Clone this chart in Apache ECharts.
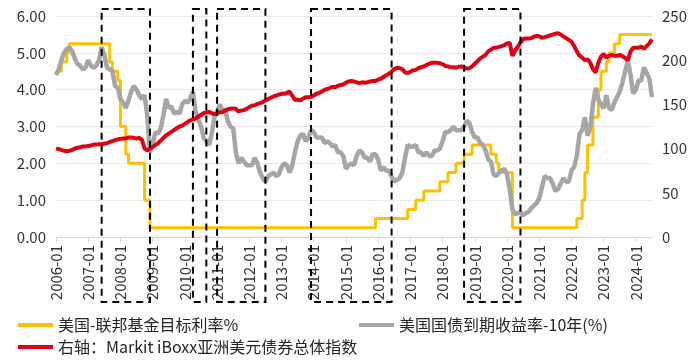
<!DOCTYPE html>
<html><head><meta charset="utf-8">
<script src="https://cdn.jsdelivr.net/npm/echarts@6/dist/echarts.min.js"></script>
<style>html,body{margin:0;padding:0;background:#fff}#c{width:700px;height:364px}</style>
</head><body><div id="c"></div>
<script>
// month categories 2006-01 .. 2024-07
const months = [];
for (let y = 2006; y <= 2024; y++) {
  for (let m = 1; m <= 12; m++) {
    if (y === 2024 && m > 7) break;
    months.push(y + '-' + (m < 10 ? '0' + m : m));
  }
}

// 美国-联邦基金目标利率% (monthly)
const fedRate = [
  4.5,4.5,4.75,4.75,5.0,5.25,5.25,5.25,5.25,5.25,5.25,5.25,
  5.25,5.25,5.25,5.25,5.25,5.25,5.25,5.25,4.75,4.5,4.5,4.25,
  3.0,3.0,2.25,2.0,2.0,2.0,2.0,2.0,2.0,1.0,1.0,0.25,
  0.25,0.25,0.25,0.25,0.25,0.25,0.25,0.25,0.25,0.25,0.25,0.25,
  0.25,0.25,0.25,0.25,0.25,0.25,0.25,0.25,0.25,0.25,0.25,0.25,
  0.25,0.25,0.25,0.25,0.25,0.25,0.25,0.25,0.25,0.25,0.25,0.25,
  0.25,0.25,0.25,0.25,0.25,0.25,0.25,0.25,0.25,0.25,0.25,0.25,
  0.25,0.25,0.25,0.25,0.25,0.25,0.25,0.25,0.25,0.25,0.25,0.25,
  0.25,0.25,0.25,0.25,0.25,0.25,0.25,0.25,0.25,0.25,0.25,0.25,
  0.25,0.25,0.25,0.25,0.25,0.25,0.25,0.25,0.25,0.25,0.25,0.5,
  0.5,0.5,0.5,0.5,0.5,0.5,0.5,0.5,0.5,0.5,0.5,0.75,
  0.75,0.75,1.0,1.0,1.0,1.25,1.25,1.25,1.25,1.25,1.25,1.5,
  1.5,1.5,1.75,1.75,1.75,2.0,2.0,2.0,2.25,2.25,2.25,2.5,
  2.5,2.5,2.5,2.5,2.5,2.5,2.25,2.25,2.0,1.75,1.75,1.75,
  1.75,1.75,0.25,0.25,0.25,0.25,0.25,0.25,0.25,0.25,0.25,0.25,
  0.25,0.25,0.25,0.25,0.25,0.25,0.25,0.25,0.25,0.25,0.25,0.25,
  0.25,0.25,0.5,0.5,1.0,1.75,2.5,2.5,3.25,3.25,4.0,4.5,
  4.5,4.75,5.0,5.0,5.25,5.25,5.5,5.5,5.5,5.5,5.5,5.5,
  5.5,5.5,5.5,5.5,5.5,5.5,5.5
];

// 美国国债到期收益率-10年(%) (monthly)
const ust10y = [
  4.4,4.55,4.8,5.0,5.1,5.15,5.05,4.85,4.7,4.65,4.55,4.6,
  4.8,4.65,4.6,4.65,4.8,5.15,4.95,4.6,4.55,4.5,4.1,4.05,
  3.75,3.65,3.5,3.7,3.95,4.1,4.0,3.85,3.75,3.85,3.3,2.3,
  2.5,2.85,2.8,2.95,3.3,3.75,3.5,3.55,3.35,3.4,3.35,3.6,
  3.7,3.65,3.75,3.95,3.4,3.2,3.0,2.7,2.6,2.5,2.8,3.25,
  3.4,3.6,3.45,3.45,3.15,3.0,2.95,2.3,2.0,2.15,2.05,1.95,
  1.95,1.95,2.15,2.0,1.75,1.6,1.5,1.65,1.7,1.75,1.65,1.7,
  1.9,2.0,1.95,1.75,1.95,2.3,2.6,2.75,2.8,2.6,2.7,2.9,
  2.85,2.7,2.7,2.7,2.55,2.6,2.55,2.45,2.5,2.3,2.3,2.2,
  1.85,1.95,2.0,1.95,2.2,2.35,2.3,2.15,2.15,2.05,2.25,2.25,
  2.1,1.8,1.9,1.8,1.8,1.65,1.5,1.55,1.6,1.75,2.15,2.5,
  2.45,2.45,2.5,2.3,2.3,2.2,2.3,2.2,2.2,2.35,2.35,2.4,
  2.6,2.85,2.85,2.9,3.0,2.9,2.9,2.9,3.0,3.15,3.1,2.85,
  2.7,2.7,2.55,2.5,2.35,2.1,2.05,1.7,1.65,1.75,1.8,1.85,
  1.7,1.3,0.75,0.62,0.65,0.68,0.58,0.65,0.68,0.78,0.85,0.92,
  1.05,1.35,1.65,1.6,1.6,1.45,1.25,1.3,1.45,1.6,1.5,1.5,
  1.8,1.9,2.2,2.8,2.9,3.25,2.75,2.95,3.6,4.05,3.75,3.6,
  3.5,3.85,3.5,3.45,3.65,3.8,3.95,4.2,4.5,4.8,4.4,3.9,
  4.0,4.25,4.25,4.6,4.45,4.3,3.8
];

// 右轴：Markit iBoxx亚洲美元债券总体指数 (monthly)
const iboxx = [
  100,99.5,98.5,97.5,97,97.5,98.5,100,101,101.5,102.5,102.5,
  103,103.5,104.5,104.5,105,105,105.5,106,107.5,108.5,109.5,110.5,
  111,111.5,111.5,112.5,112.5,112,111.5,112,110,100,98,100,
  102,104,106,109,112,115,117,119,121,123,125,126,
  128,130,132,133,134,136,138,140,141,141.5,140,139,
  140,141,141.5,143,144.5,145,145.5,145,142,143,143.5,145,
  147,148.5,149,150.5,151.5,152.5,154.5,156,157.5,159,160,161,
  162,162,163,164.5,160,155,155.5,154.5,156.5,158,158,158.5,
  160,162,163,164.5,166.5,167.5,168.5,170,169.5,171,172,172.5,
  174.5,176,176.5,176,175,174,175,174.5,175,176,176.5,176.5,
  178,179,181,183,184.5,187,190,191.5,191,190,186,185.5,
  187,188.5,189,191,192,193,194.5,196,197,197,197,196.5,
  195.5,193.5,193,192,192,191.5,192.5,193,191.5,190.5,191,193,
  196,199,202,204,206,210,212,214,214,215,216,217,
  219,219.5,205,211,215,220,224,224.5,224.5,225,226.5,227.5,
  227,225.5,226,227,228,229,230,230.5,229,227,225,223,
  221,216,210,205,203,200,201,197,190,186,197,204,
  207,203,205,206,205,205,206,204.5,202.5,200,210,214,
  214,214,215.5,213,216,219,223.5
];

const seriesNames = ['美国-联邦基金目标利率%', '美国国债到期收益率-10年(%)', '右轴：Markit iBoxx亚洲美元债券总体指数'];
const seriesColors = ['#FFC000', '#A6A6A6', '#E00012'];
const boxes = [['2007-06','2008-12'],['2010-04','2010-09'],['2011-01','2012-07'],['2013-12','2016-06'],['2018-09','2020-06']];

const FONT = '"Noto Sans CJK SC", "Noto Sans", sans-serif';
const chart = echarts.init(document.getElementById('c'), null, {renderer: 'canvas'});
const isJan = (i, v) => typeof v === 'string' ? v.endsWith('-01') : months[i].endsWith('-01');

chart.setOption({
  animation: false,
  backgroundColor: '#fff',
  textStyle: {fontFamily: FONT},
  grid: {left: 56, right: 48, top: 16, bottom: 127, containLabel: false},
  legend: [
    {data: [seriesNames[0]], left: 13, top: 312, icon: 'rect', itemWidth: 35, itemHeight: 4,
     textStyle: {fontSize: 16, color: '#262626', fontFamily: FONT}},
    {data: [seriesNames[1]], left: 354, top: 312, icon: 'rect', itemWidth: 35, itemHeight: 4,
     textStyle: {fontSize: 16, color: '#262626', fontFamily: FONT}},
    {data: [seriesNames[2]], left: 13, top: 334, icon: 'rect', itemWidth: 35, itemHeight: 4,
     textStyle: {fontSize: 16, color: '#262626', fontFamily: FONT}}
  ],
  xAxis: {
    type: 'category', data: months, boundaryGap: false,
    axisLine: {lineStyle: {color: '#D9D9D9', width: 1}},
    axisTick: {show: true, interval: (i, v) => isJan(i, v), length: 5, lineStyle: {color: '#D9D9D9'}},
    axisLabel: {interval: (i, v) => isJan(i, v), rotate: 90, margin: 8, fontSize: 15, color: '#333', fontFamily: FONT},
    splitLine: {show: false}
  },
  yAxis: [
    {type: 'value', min: 0, max: 6, interval: 1, position: 'left',
     axisLine: {show: false}, axisTick: {show: false},
     axisLabel: {formatter: v => v.toFixed(2), fontSize: 15, color: '#333', margin: 10, fontFamily: FONT},
     splitLine: {lineStyle: {color: '#EBEBEB', width: 1}}},
    {type: 'value', min: 0, max: 250, interval: 50, position: 'right',
     axisLine: {show: false}, axisTick: {show: false},
     axisLabel: {fontSize: 15, color: '#333', margin: 10, fontFamily: FONT},
     splitLine: {show: false}}
  ],
  series: [
    {name: seriesNames[0], type: 'line', data: fedRate, yAxisIndex: 0, step: 'end', symbol: 'none',
     lineStyle: {color: seriesColors[0], width: 3}, itemStyle: {color: seriesColors[0]}, z: 2},
    {name: seriesNames[1], type: 'line', data: ust10y, yAxisIndex: 0, symbol: 'none',
     lineStyle: {color: seriesColors[1], width: 4.5}, itemStyle: {color: seriesColors[1]}, z: 3},
    {name: seriesNames[2], type: 'line', data: iboxx, yAxisIndex: 1, symbol: 'none',
     lineStyle: {color: seriesColors[2], width: 4}, itemStyle: {color: seriesColors[2]}, z: 4}
  ]
});

const boxTop = 9, boxBottom = 302;
const graphics = boxes.map(b => {
  const x1 = chart.convertToPixel({xAxisIndex: 0}, b[0]);
  const x2 = chart.convertToPixel({xAxisIndex: 0}, b[1]);
  return {
    type: 'rect', z: 100, silent: true,
    shape: {x: x1, y: boxTop, width: x2 - x1, height: boxBottom - boxTop},
    style: {fill: 'none', stroke: '#000', lineWidth: 2, lineDash: [7, 5]}
  };
});
chart.setOption({graphic: graphics});
</script>
</body></html>
